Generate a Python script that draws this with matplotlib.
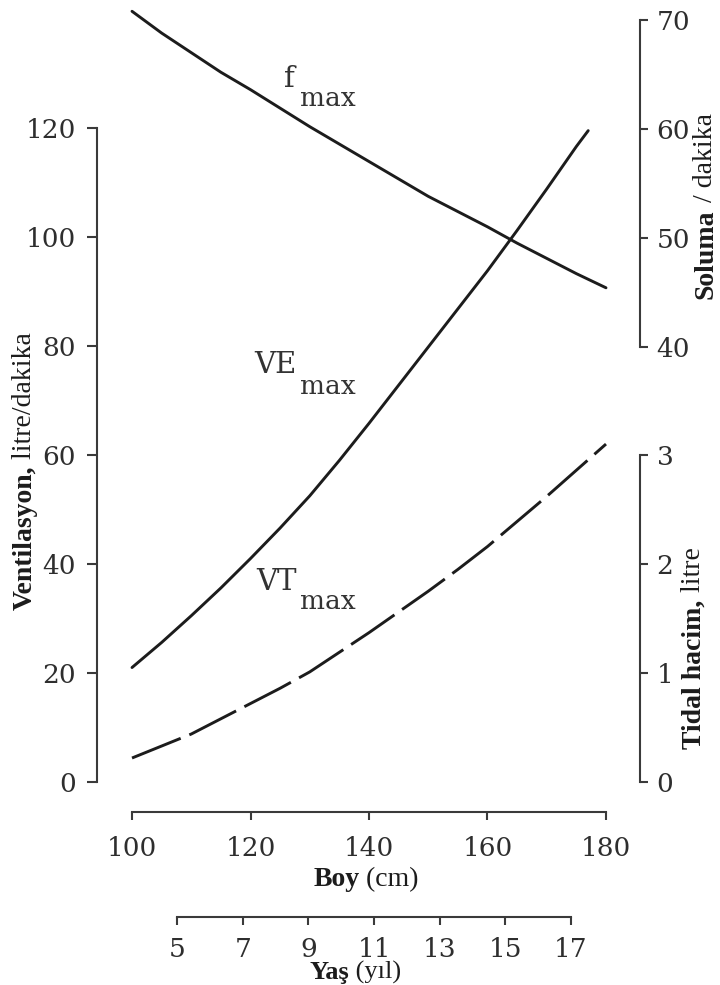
import matplotlib
matplotlib.use("Agg")
import matplotlib.pyplot as plt

# height in cm (Boy)
boy_cm = [100, 105, 110, 115, 120, 125, 130, 135, 140, 145, 150, 155, 160, 165, 170, 175, 180]
# breaths / min
f_max = [70.8, 68.8, 67.0, 65.2, 63.6, 61.9, 60.2, 58.6, 57.0, 55.4, 53.8, 52.4, 51.0, 49.5, 48.1, 46.7, 45.4]
# tidal volume, litre
vt_max = [0.22, 0.33, 0.44, 0.58, 0.72, 0.86, 1.01, 1.19, 1.37, 1.56, 1.75, 1.95, 2.16, 2.39, 2.62, 2.86, 3.10]
# ventilation, litre / min (curve stops before 180 cm)
ve_boy = [100, 105, 110, 115, 120, 125, 130, 135, 140, 145, 150, 155, 160, 165, 170, 175, 177]
ve_max = [21.0, 25.6, 30.5, 35.6, 41.0, 46.6, 52.5, 59.0, 65.8, 72.8, 79.8, 86.8, 93.8, 101.2, 108.8, 116.6, 119.5]

boy_ticks = [100, 120, 140, 160, 180]
age_ticks = [5, 7, 9, 11, 13, 15, 17]
vent_ticks = [0, 20, 40, 60, 80, 100, 120]
sol_ticks = [40, 50, 60, 70]
tid_ticks = [0, 1, 2, 3]

INK = "#1c1c1c"
AXC = "#3a3a3a"
TICK_COLOR = "#2e2e2e"

W, H = 720, 985
fig = plt.figure(figsize=(W / 100, H / 100), dpi=100)
ax = fig.add_axes([97 / W, 1 - 782 / H, 543 / W, 762 / H])

x_lo, x_hi = 94.09, 185.74
y_top = 139.8
ax.set_xlim(x_lo, x_hi)
ax.set_ylim(0, y_top)

ax_sol = ax.twinx()
ax_sol.set_ylim(0, y_top / 2)
ax_tid = ax.twinx()
ax_tid.set_ylim(0, y_top / 20)
ax_age = ax.twiny()
ax_age.set_xlim(2.563, 19.10)

for a in (ax, ax_sol, ax_tid, ax_age):
    for s in a.spines.values():
        s.set_visible(False)
        s.set_linewidth(1.5)
        s.set_color(AXC)

# left axis - ventilation
ax.spines["left"].set_visible(True)
ax.spines["left"].set_bounds(0, 120)
ax.set_yticks(vent_ticks)
ax.tick_params(axis="y", direction="out", length=7, width=1.5, color=AXC, pad=8)

# bottom axis - height
ax.spines["bottom"].set_visible(True)
ax.spines["bottom"].set_position(("outward", 21.6))
ax.spines["bottom"].set_bounds(100, 180)
ax.set_xticks(boy_ticks)
ax.tick_params(axis="x", direction="out", length=6, width=1.5, color=AXC, pad=11)

# right upper - breathing frequency
ax_sol.spines["right"].set_visible(True)
ax_sol.spines["right"].set_bounds(40, 70)
ax_sol.set_yticks(sol_ticks)
ax_sol.tick_params(axis="y", direction="out", length=6, width=1.5, color=AXC, pad=6)

# right lower - tidal volume
ax_tid.spines["right"].set_visible(True)
ax_tid.spines["right"].set_bounds(0, 3)
ax_tid.set_yticks(tid_ticks)
ax_tid.tick_params(axis="y", direction="out", length=6, width=1.5, color=AXC, pad=6)

# second x axis - age
ax_age.xaxis.tick_bottom()
ax_age.spines["bottom"].set_visible(True)
ax_age.spines["bottom"].set_position(("outward", 97.5))
ax_age.spines["bottom"].set_bounds(5, 17)
ax_age.set_xticks(age_ticks)
ax_age.tick_params(axis="x", direction="out", length=6, width=1.5, color=AXC, pad=8)

for a in (ax, ax_sol, ax_tid, ax_age):
    for lab in a.get_xticklabels() + a.get_yticklabels():
        lab.set_fontfamily("DejaVu Serif")
        lab.set_fontsize(19)
        lab.set_color(TICK_COLOR)

# curves
ax.plot(ve_boy, ve_max, color=INK, lw=2.1, solid_capstyle="round")
ax_sol.plot(boy_cm, f_max, color=INK, lw=2.1, solid_capstyle="round", clip_on=False)
ax_tid.plot(boy_cm, vt_max, color=INK, lw=2.1, linestyle=(0, (18, 3.2)))

# curve labels
lab_kw = dict(family="DejaVu Serif", color="#333333", fontsize=21)
sub_kw = dict(family="DejaVu Serif", color="#333333", fontsize=19)
ax.text(127.4, 129.0, "f", ha="right", va="center", **lab_kw)
ax.text(128.3, 125.4, "max", ha="left", va="center", **sub_kw)
ax.text(127.8, 76.5, "VE", ha="right", va="center", **lab_kw)
ax.text(128.3, 72.6, "max", ha="left", va="center", **sub_kw)
ax.text(127.8, 36.7, "VT", ha="right", va="center", **lab_kw)
ax.text(128.3, 33.2, "max", ha="left", va="center", **sub_kw)


def mixed_label(x_px, y_px, bold, regular, rotation=0, size=19):
    # bold part followed by regular part, centred on (x_px, y_px)
    r = fig.canvas.get_renderer()
    kw = dict(family="Liberation Serif", size=size, color=INK, rotation=rotation)
    t1 = fig.text(0, 0, bold, weight="bold", **kw)
    t2 = fig.text(0, 0, regular, weight="normal", **kw)
    e1 = t1.get_window_extent(r)
    e2 = t2.get_window_extent(r)
    if rotation == 0:
        start = x_px - (e1.width + e2.width) / 2
        t1.set_position((start / W, 1 - y_px / H))
        t2.set_position(((start + e1.width) / W, 1 - y_px / H))
        for t in (t1, t2):
            t.set_ha("left")
            t.set_va("baseline")
    else:
        start = (H - y_px) - (e1.height + e2.height) / 2
        t1.set_position((x_px / W, start / H))
        t2.set_position((x_px / W, (start + e1.height) / H))
        for t in (t1, t2):
            t.set_ha("center")
            t.set_va("bottom")


mixed_label(25, 471, "Ventilasyon,", " litre/dakika", rotation=90, size=20)
mixed_label(706, 206, "Soluma", " / dakika", rotation=90, size=20)
mixed_label(694, 648, "Tidal hacim,", " litre", rotation=90, size=20)
mixed_label(366, 886, "Boy", " (cm)", size=20)
mixed_label(355, 979, "Yaş", " (yıl)", size=19)

fig.savefig("out.png", dpi=100, facecolor="white")
